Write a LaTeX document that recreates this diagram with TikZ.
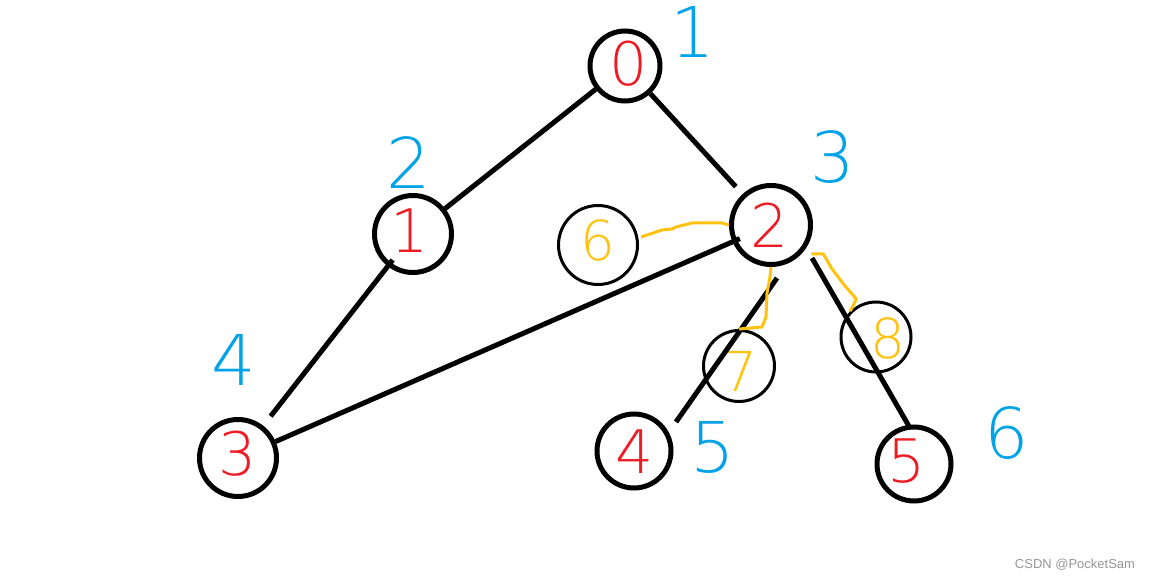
\documentclass[tikz,border=0pt]{standalone}
\usepackage{fontspec}
\setmainfont{DejaVu Sans ExtraLight}
\newfontfamily\wmfont{Liberation Sans}
\definecolor{pred}{RGB}{237,28,36}
\definecolor{pblue}{RGB}{0,162,232}
\definecolor{pyel}{RGB}{255,194,14}
\definecolor{wmgray}{RGB}{150,150,150}
\begin{document}
\begin{tikzpicture}[x=1pt,y=-1pt,
  bignode/.style={circle,draw=black,line width=5pt,inner sep=0pt,minimum size=#1},
  smallnode/.style={circle,draw=black,line width=3pt,inner sep=0pt,minimum size=#1},
  reddigit/.style={text=pred,inner sep=0pt,font=\fontsize{60}{60}\selectfont},
  yeldigit/.style={text=pyel,inner sep=0pt,font=\fontsize{55}{55}\selectfont},
  bluedigit/.style={text=pblue,inner sep=0pt,font=\fontsize{70}{70}\selectfont},
  edge/.style={line width=5pt,draw=black},
  yedge/.style={line width=3pt,draw=pyel,line join=round}]
\useasboundingbox (0,0) rectangle (1154,580);
\fill[white] (0,0) rectangle (1154,580);
% circles
\node[bignode=70pt] (n0) at (625,66) {};
\node[bignode=77pt] (n1) at (413,234) {};
\node[bignode=79pt] (n2) at (771,225) {};
\node[bignode=77pt] (n3) at (238,458) {};
\node[bignode=74pt] (n4) at (634,451) {};
\node[bignode=74pt] (n5) at (914,464) {};
\node[smallnode=79pt] (n6) at (598,245) {};
\node[smallnode=71pt] (n7) at (739,366) {};
\node[smallnode=70pt] (n8) at (876,337) {};
% red digits
\node[reddigit] (d0) at (629,64) {0};
\node[reddigit] (d1) at (410,231) {1};
\node[reddigit] (d2) at (770,225) {2};
\node[reddigit] (d3) at (238,454) {3};
\node[reddigit] (d4) at (635,452) {4};
\node[reddigit] (d5) at (907,461) {5};
% yellow digits
\node[yeldigit] (d6) at (598,240) {6};
\node[yeldigit] (d7) at (740,371) {7};
\node[yeldigit] (d8) at (888,338) {8};
% blue labels
\node[bluedigit] (b1) at (693,32) {1};
\node[bluedigit] (b2) at (409,163) {2};
\node[bluedigit] (b3) at (833,157) {3};
\node[bluedigit] (b4) at (234,360) {4};
\node[bluedigit] (b5) at (713,447) {5};
\node[bluedigit] (b6) at (1007,433) {6};
% black edges
\draw[edge] (n0) -- (n1);
\draw[edge,shorten >=10pt] (n0) -- (n2);
\draw[edge,shorten >=12pt,shorten <=-8pt] (n1) -- (n3);
\draw[edge,shorten <=-8pt] (n2) -- (n3);
\coordinate (e24a) at (777,278);
\coordinate (e24b) at (676,422);
\draw[edge] (e24a) -- (e24b);
\coordinate (e25a) at (812,258);
\coordinate (e25b) at (910,428);
\draw[edge] (e25a) -- (e25b);
% yellow edges
\draw[yedge] (n6.east) ++(2,-8) -- ++(21,-7) -- ++(10,-1) -- ++(4,-2) -- ++(16,-4) -- ++(30,0) -- (n2.west);
\draw[yedge] (n2.south) -- ++(-1,10) -- ++(-3,16) -- ++(-1,24) -- ++(-4,10) -- (n7.north);
\draw[yedge] (n2.-30) ++(4,8) -- ++(12,0) -- ++(8,14) -- ++(12,16) -- ++(13,15) coordinate (y8) -- (n8.north west);
% watermark
\node[text=wmgray,font=\wmfont\fontsize{13}{13}\selectfont,inner sep=0pt] (wm) at (1075,565) {CSDN @PocketSam};
\end{tikzpicture}
\end{document}
